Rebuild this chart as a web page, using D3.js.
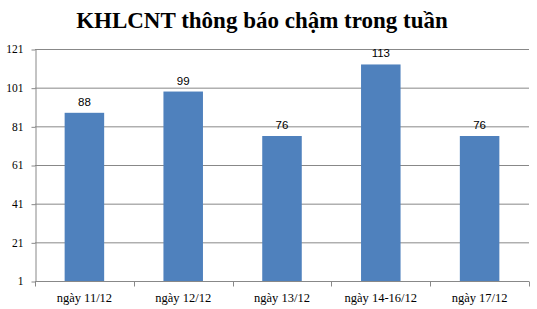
<!DOCTYPE html>
<html><head><meta charset="utf-8">
<script src="https://cdn.jsdelivr.net/npm/d3@7"></script>
<style>body{margin:0;background:#fff}svg{display:block}</style>
</head><body>
<script>
const categories = ["ngày 11/12", "ngày 12/12", "ngày 13/12", "ngày 14-16/12", "ngày 17/12"];
const values = [88, 99, 76, 113, 76];
const yTicks = [1, 21, 41, 61, 81, 101, 121];
const title = "KHLCNT thông báo chậm trong tuần";

const W = 537, H = 309;
const m = {left: 35, right: 8, top: 49, bottom: 28};
const svg = d3.select("body").append("svg").attr("width", W).attr("height", H);

const x = d3.scaleBand().domain(categories).range([m.left, W - m.right]).paddingInner(0.6).paddingOuter(0.3);
const y = d3.scaleLinear().domain([1, 121]).range([H - m.bottom, m.top]);

svg.append("text").attr("x", 262).attr("y", 28).attr("text-anchor", "middle")
  .attr("font-family", "Liberation Serif, Times New Roman, serif").attr("font-weight", "bold")
  .attr("font-size", 23).attr("fill", "#000").text(title);

// gridlines
svg.append("g").selectAll("line").data(yTicks.slice(1)).join("line")
  .attr("x1", m.left).attr("x2", W - m.right)
  .attr("y1", d => y(d) + 0.5).attr("y2", d => y(d) + 0.5)
  .attr("stroke", "#888").attr("stroke-width", 1);

// y axis
const ya = svg.append("g").attr("transform", `translate(${m.left + 0.5},0)`)
  .call(d3.axisLeft(y).tickValues(yTicks).tickSize(4).tickPadding(8).tickSizeOuter(0));
ya.select(".domain").attr("stroke", "#888");
ya.selectAll(".tick line").attr("stroke", "#888").attr("transform", "translate(0,0.5)");
ya.selectAll("text").attr("font-family", "Liberation Serif, Times New Roman, serif").attr("font-size", 11.5).attr("fill", "#000");

// bars
svg.append("g").selectAll("rect").data(values).join("rect")
  .attr("x", (d, i) => x(categories[i]))
  .attr("width", x.bandwidth())
  .attr("y", d => y(d))
  .attr("height", d => y(1) - y(d))
  .attr("fill", "#4f81bd");

// value labels
svg.append("g").selectAll("text").data(values).join("text")
  .attr("x", (d, i) => x(categories[i]) + x.bandwidth() / 2)
  .attr("y", d => y(d) - 7)
  .attr("text-anchor", "middle")
  .attr("font-family", "Liberation Sans, Arial, sans-serif").attr("font-size", 11.5).attr("fill", "#000")
  .text(d => d);

// x axis
const xa = svg.append("g").attr("transform", `translate(0,${y(1) + 0.5})`);
xa.append("line").attr("x1", m.left).attr("x2", W - m.right).attr("stroke", "#888");
const bounds = d3.range(categories.length + 1).map(i => m.left + i * (W - m.right - m.left) / categories.length);
xa.selectAll("line.t").data(bounds).join("line").attr("class", "t")
  .attr("x1", d => Math.round(d) + 0.5).attr("x2", d => Math.round(d) + 0.5).attr("y1", 0).attr("y2", 5).attr("stroke", "#888");
xa.selectAll("text").data(categories).join("text")
  .attr("x", d => x(d) + x.bandwidth() / 2).attr("y", 20)
  .attr("text-anchor", "middle")
  .attr("font-family", "Liberation Serif, Times New Roman, serif").attr("font-size", 12.5).attr("fill", "#000")
  .text(d => d);
</script>
</body></html>
